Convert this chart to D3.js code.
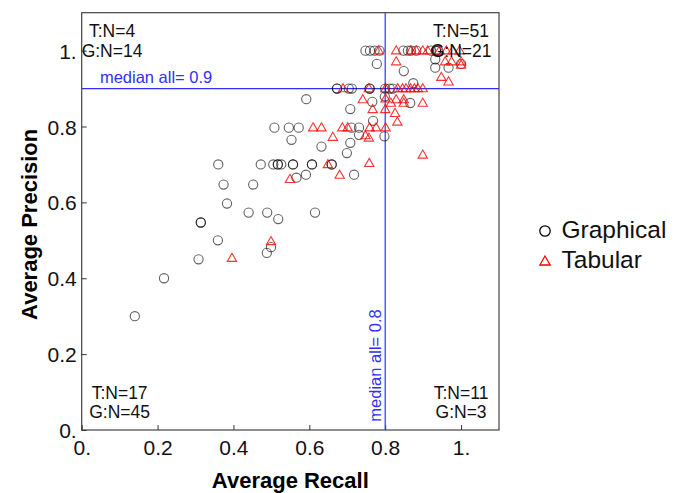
<!DOCTYPE html>
<html>
<head>
<meta charset="utf-8">
<script src="https://cdn.jsdelivr.net/npm/d3@7"></script>
<style>
	body { margin: 0; background: #fff; }
	svg { font-family: "Liberation Sans", Arial, sans-serif; }
</style>
</head>
<body>
<svg width="676" height="493"></svg>
<script>
const d3 = window.d3;

// [recall, precision] per participant
const graphical = [
	[0.14, 0.30], [0.217, 0.40], [0.308, 0.45], [0.314, 0.547], [0.314, 0.547],
	[0.359, 0.50], [0.36, 0.70], [0.374, 0.647], [0.383, 0.597], [0.44, 0.573],
	[0.452, 0.647], [0.472, 0.70], [0.488, 0.467], [0.489, 0.573], [0.499, 0.482],
	[0.505, 0.70], [0.508, 0.797], [0.517, 0.70], [0.517, 0.70], [0.518, 0.556],
	[0.526, 0.70], [0.546, 0.797], [0.553, 0.765], [0.557, 0.70], [0.557, 0.70],
	[0.566, 0.665], [0.572, 0.797], [0.591, 0.673], [0.592, 0.872], [0.607, 0.70],
	[0.607, 0.70], [0.615, 0.573], [0.632, 0.747], [0.659, 0.70], [0.659, 0.70],
	[0.673, 0.90], [0.673, 0.90], [0.699, 0.73], [0.704, 0.90], [0.708, 0.846],
	[0.708, 0.757], [0.712, 0.90], [0.711, 0.797], [0.718, 0.673], [0.731, 0.797],
	[0.731, 0.778], [0.759, 0.90], [0.759, 0.90], [0.766, 0.865], [0.768, 0.815],
	[0.778, 0.965], [0.748, 1.0], [0.76, 1.0], [0.772, 1.0], [0.785, 1.0],
	[0.799, 0.879], [0.798, 0.774], [0.80, 0.90], [0.812, 0.90], [0.82, 0.90],
	[0.848, 1.0], [0.86, 1.0], [0.868, 1.0], [0.882, 1.0], [0.849, 0.946],
	[0.866, 0.862], [0.874, 0.914], [0.921, 1.0], [0.934, 1.0], [0.934, 1.0],
	[0.94, 1.0], [0.932, 0.977], [0.932, 0.955], [0.967, 0.955], [1.0, 0.965]
];
const tabular = [
	[0.396, 0.453], [0.499, 0.497], [0.549, 0.661], [0.61, 0.797], [0.632, 0.797],
	[0.649, 0.70], [0.662, 0.772], [0.68, 0.672], [0.687, 0.797], [0.701, 0.797],
	[0.689, 0.90], [0.741, 0.871], [0.748, 0.776], [0.757, 0.77], [0.758, 0.703],
	[0.759, 0.797], [0.757, 0.90], [0.767, 0.845], [0.776, 0.797], [0.783, 1.0],
	[0.801, 0.797], [0.80, 0.845], [0.801, 0.873], [0.801, 0.90], [0.815, 0.862],
	[0.829, 0.871], [0.849, 0.871], [0.849, 0.862], [0.826, 0.835], [0.832, 0.812],
	[0.833, 0.90], [0.846, 0.90], [0.855, 0.90], [0.867, 0.90], [0.877, 0.90],
	[0.886, 0.90], [0.899, 0.90], [0.899, 0.862], [0.899, 0.725], [0.829, 1.0],
	[0.829, 0.971], [0.868, 1.0], [0.882, 1.0], [0.899, 1.0], [0.912, 1.0],
	[0.943, 1.0], [0.961, 1.0], [0.978, 1.0], [0.996, 1.0], [0.958, 0.971],
	[0.975, 0.971], [1.0, 0.971], [1.0, 0.962], [0.948, 0.93], [0.967, 0.918]
];
const ticks = [0, 0.2, 0.4, 0.6, 0.8, 1.0];
const tickLabels = ["0.", "0.2", "0.4", "0.6", "0.8", "1."];
const medianRecall = 0.8;
const medianPrecision = 0.9;
// quadrant counts: [x, y, tabular N, graphical N]
const quadrants = [
	[0.08, 1.035, 4, 14],
	[1.0, 1.035, 51, 21],
	[0.1, 0.082, 17, 45],
	[1.0, 0.082, 11, 3]
];
const legendItems = ["Graphical", "Tabular"];

const plotLeft = 81.7, plotTop = 12.7, w = 417.3, h = 417.3;
const xScale = d3.scaleLinear().domain([0, 1.1]).range([plotLeft, plotLeft + w]);
const yScale = d3.scaleLinear().domain([0, 1.1]).range([plotTop + h, plotTop]);

const svg = d3.select("svg");

// frame
svg.append("rect")
	.attr("x", plotLeft).attr("y", plotTop)
	.attr("width", w).attr("height", h)
	.attr("fill", "none")
	.attr("stroke", "#444")
	.attr("stroke-width", 1.2);

// x axis
const xAxis = svg.append("g")
	.attr("transform", `translate(0,${plotTop + h})`)
	.call(d3.axisBottom(xScale).tickValues(ticks).tickSizeInner(-5).tickSizeOuter(0)
		.tickFormat((d, i) => tickLabels[i]));
xAxis.select(".domain").remove();
xAxis.selectAll("line").attr("stroke", "#333");
xAxis.selectAll("text")
	.attr("y", 25).attr("dy", 0)
	.attr("fill", "#111")
	.style("font-size", "21px")
	.style("font-family", "Liberation Sans, Arial, sans-serif");

// y axis
const yAxis = svg.append("g")
	.attr("transform", `translate(${plotLeft},0)`)
	.call(d3.axisLeft(yScale).tickValues(ticks).tickSizeInner(-5).tickSizeOuter(0)
		.tickFormat((d, i) => tickLabels[i]));
yAxis.select(".domain").remove();
yAxis.selectAll("line").attr("stroke", "#333");
yAxis.selectAll("text")
	.attr("x", -5).attr("dy", "0.36em")
	.attr("fill", "#111")
	.style("font-size", "21px")
	.style("font-family", "Liberation Sans, Arial, sans-serif");

// axis titles
svg.append("text")
	.attr("x", plotLeft + w / 2).attr("y", 488)
	.attr("text-anchor", "middle")
	.style("font-size", "22px").style("font-weight", "bold")
	.text("Average Recall");
svg.append("text")
	.attr("transform", `translate(37,${plotTop + h / 2 + 3})rotate(-90)`)
	.attr("text-anchor", "middle")
	.style("font-size", "22px").style("font-weight", "bold")
	.text("Average Precision");

// median lines
const blue = "#2f2fff";
svg.append("line")
	.attr("x1", plotLeft).attr("x2", plotLeft + w)
	.attr("y1", yScale(medianPrecision)).attr("y2", yScale(medianPrecision))
	.attr("stroke", blue).attr("stroke-width", 1.2);
svg.append("line")
	.attr("x1", xScale(medianRecall)).attr("x2", xScale(medianRecall))
	.attr("y1", plotTop).attr("y2", plotTop + h)
	.attr("stroke", blue).attr("stroke-width", 1.2);
svg.append("text")
	.attr("x", xScale(0.048)).attr("y", yScale(medianPrecision) - 6)
	.attr("fill", blue)
	.style("font-size", "16.5px")
	.text("median all= " + medianPrecision);
svg.append("text")
	.attr("transform", `translate(${xScale(medianRecall) - 4},${yScale(0.022)})rotate(-90)`)
	.attr("fill", blue)
	.style("font-size", "16.5px")
	.text("median all= " + medianRecall);

// points
const plot = svg.append("g");
plot.selectAll("circle.g")
	.data(graphical)
	.join("circle")
	.attr("class", "g")
	.attr("cx", d => xScale(d[0]))
	.attr("cy", d => yScale(d[1]))
	.attr("r", 4.6)
	.attr("fill", "none")
	.attr("stroke", "#000")
	.attr("stroke-opacity", 0.62)
	.attr("stroke-width", 1.1);

const tri = d3.symbol().type(d3.symbolTriangle).size(38);
plot.selectAll("path.t")
	.data(tabular)
	.join("path")
	.attr("class", "t")
	.attr("d", tri)
	.attr("transform", d => `translate(${xScale(d[0])},${yScale(d[1]) + 0.5})`)
	.attr("fill", "none")
	.attr("stroke", "#ff0000")
	.attr("stroke-opacity", 0.8)
	.attr("stroke-width", 1.1);

// quadrant counts
const qg = svg.append("g").style("font-size", "17.5px").attr("fill", "#111");
quadrants.forEach(q => {
	qg.append("text")
		.attr("x", xScale(q[0])).attr("y", yScale(q[1]))
		.attr("text-anchor", "middle")
		.text("T:N=" + q[2]);
	qg.append("text")
		.attr("x", xScale(q[0])).attr("y", yScale(q[1]) + 19.5)
		.attr("text-anchor", "middle")
		.text("G:N=" + q[3]);
});

// legend
const legend = svg.append("g").attr("transform", "translate(545,231)");
legend.append("circle")
	.attr("r", 5.2)
	.attr("fill", "none")
	.attr("stroke", "#000")
	.attr("stroke-width", 1.3);
legend.append("path")
	.attr("d", d3.symbol().type(d3.symbolTriangle).size(46))
	.attr("transform", "translate(0,31)")
	.attr("fill", "none")
	.attr("stroke", "#ff0000")
	.attr("stroke-width", 1.3);
legend.selectAll("text")
	.data(legendItems)
	.join("text")
	.attr("x", 16.5)
	.attr("y", (d, i) => 6.7 + i * 30)
	.style("font-size", "24.5px")
	.attr("fill", "#111")
	.text(d => d);
</script>
</body>
</html>
